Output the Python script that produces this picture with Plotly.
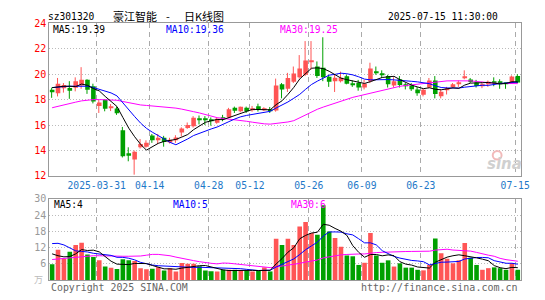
import plotly.graph_objects as go

# ---------------- data ----------------
dates = ["2025-03-19","2025-03-20","2025-03-21","2025-03-24","2025-03-25","2025-03-26","2025-03-27","2025-03-28",
         "2025-03-31","2025-04-01","2025-04-02","2025-04-03","2025-04-07","2025-04-08","2025-04-09","2025-04-10",
         "2025-04-11","2025-04-14","2025-04-15","2025-04-16","2025-04-17","2025-04-18","2025-04-21","2025-04-22",
         "2025-04-23","2025-04-24","2025-04-25","2025-04-28","2025-04-29","2025-04-30","2025-05-06","2025-05-07",
         "2025-05-08","2025-05-09","2025-05-12","2025-05-13","2025-05-14","2025-05-15","2025-05-16","2025-05-19",
         "2025-05-20","2025-05-21","2025-05-22","2025-05-23","2025-05-26","2025-05-27","2025-05-28","2025-05-29",
         "2025-05-30","2025-06-03","2025-06-04","2025-06-05","2025-06-06","2025-06-09","2025-06-10","2025-06-11",
         "2025-06-12","2025-06-13","2025-06-16","2025-06-17","2025-06-18","2025-06-19","2025-06-20","2025-06-23",
         "2025-06-24","2025-06-25","2025-06-26","2025-06-27","2025-06-30","2025-07-01","2025-07-02","2025-07-03",
         "2025-07-04","2025-07-07","2025-07-08","2025-07-09","2025-07-10","2025-07-11","2025-07-14","2025-07-15"]

open_ = [18.77,18.50,18.90,18.92,18.94,19.10,19.57,19.05,17.50,17.98,17.32,17.30,15.60,13.78,13.30,14.25,
         14.30,15.17,14.85,15.00,14.62,14.80,15.42,15.76,15.90,16.45,16.43,16.40,16.18,16.55,16.60,17.36,
         17.08,17.35,17.20,17.48,17.22,17.22,17.15,19.20,18.85,19.40,19.75,19.95,20.95,20.60,20.50,19.80,
         19.45,19.45,19.83,19.22,19.30,18.95,19.45,20.22,20.05,19.85,19.10,19.60,19.12,19.10,18.80,18.38,
         18.95,19.50,18.27,18.75,19.00,19.25,19.68,19.58,19.35,19.10,19.25,19.42,19.45,19.28,19.38,19.85]
high = [18.94,19.70,19.30,19.45,19.75,20.55,19.60,19.25,18.00,18.02,17.65,17.45,15.85,14.25,14.00,14.90,
        14.80,15.30,15.30,15.15,15.00,15.20,15.82,16.20,16.70,16.75,16.70,16.60,16.60,16.80,17.35,17.45,
        17.45,17.45,17.50,17.68,17.40,17.42,19.65,19.30,20.10,20.60,21.50,22.60,22.60,21.00,22.90,19.95,
        19.95,20.20,19.95,19.50,19.55,19.55,20.90,20.60,20.30,19.95,19.75,19.85,19.30,19.30,19.00,18.90,
        19.70,19.85,18.80,19.00,19.30,19.50,20.30,19.70,19.55,19.40,19.50,19.75,19.60,19.32,19.90,20.00]
low = [18.14,18.25,18.55,18.06,18.65,18.85,18.45,17.70,16.95,17.08,17.10,16.80,13.45,13.15,12.10,14.15,
       14.22,14.60,14.50,14.30,14.55,14.60,15.10,15.70,15.80,16.05,16.00,15.95,16.10,16.30,16.55,16.95,
       17.00,16.95,17.05,17.06,17.10,16.95,17.05,18.10,18.60,19.30,19.65,19.85,20.35,19.70,19.45,19.00,
       18.60,19.35,19.20,19.00,18.70,18.80,19.30,19.95,19.70,18.95,18.95,18.95,18.80,18.68,18.30,18.25,
       18.90,18.10,18.10,18.40,18.95,19.00,19.60,19.30,18.95,18.90,19.00,19.05,18.85,18.85,19.30,19.30]
close = [18.57,19.25,19.15,18.69,19.45,19.57,18.77,17.85,17.78,17.28,17.45,16.93,13.55,13.58,13.90,14.50,
         14.60,14.80,15.00,14.67,14.85,15.03,15.72,16.00,16.58,16.38,16.38,16.35,16.50,16.50,17.25,17.12,
         17.43,17.08,17.28,17.20,17.28,17.15,19.10,18.80,19.70,20.05,20.45,21.08,21.05,19.85,19.75,19.40,
         19.72,19.72,19.25,19.17,18.95,19.25,20.45,20.10,19.95,19.20,19.45,19.15,19.05,18.82,18.50,18.78,
         19.50,18.45,18.62,18.85,19.20,19.30,19.75,19.38,19.07,19.15,19.40,19.35,19.20,19.25,19.82,19.35]
volume = [5.9,11.2,7.9,10.5,13.0,13.8,9.5,8.5,7.3,5.0,4.6,4.1,7.7,7.3,7.1,4.4,
          4.0,4.2,4.7,3.5,4.4,3.2,6.3,6.0,6.0,5.1,3.5,3.3,3.2,3.8,3.8,3.8,
          3.6,3.6,3.2,3.4,4.7,3.2,15.3,13.0,15.3,13.0,19.8,21.5,17.4,16.8,27.7,18.0,
          15.6,12.3,9.1,8.8,5.6,6.4,17.4,9.1,6.4,7.3,5.0,6.2,4.6,4.6,3.8,3.6,
          5.6,15.4,9.9,7.9,6.2,7.3,13.7,8.3,5.6,3.8,4.4,4.7,4.4,3.8,6.2,3.8]

# moving-average values before enough history is visible
ma5_head = [18.94,19.00,19.05,19.05]
ma10_head = [18.94,19.00,19.02,19.05,19.07,19.07,19.05,18.95,18.82]
ma30_head = [17.36,17.48,17.60,17.70,17.80,17.90,17.96,18.00,18.00,18.00,18.00,17.95,17.85,17.75,17.65,
             17.58,17.54,17.50,17.47,17.44,17.40,17.33,17.25,17.17,17.05,16.95,16.82,16.70,16.58]
vma5_head = [9.7,9.0,8.6,8.7]
vma10_head = [13.5,13.6,13.0,11.8,10.8,10.6,10.4,9.9,9.6]
vma30_head = [7.6,7.8,8.0,8.3,8.6,8.8,8.9,9.0,9.0,8.9,8.8,8.8,8.8,8.8,8.8,8.9,9.2,9.5,9.5,9.3,
              9.0,8.5,8.0,7.5,7.2,6.8,6.4,6.2,6.0]

tick_dates = ["2025-03-31","2025-04-14","2025-04-28","2025-05-12","2025-05-26","2025-06-09","2025-06-23","2025-07-15"]
price_ticks = [12,14,16,18,20,22,24]
vol_ticks = [6,12,18,24,30]

header_code = "sz301320"
header_name = "豪江智能"
header_kind = "日K线图"
header_time = "2025-07-15 11:30:00"
ma_price_labels = ["MA5:19.39","MA10:19.36","MA30:19.25"]
ma_vol_labels = ["MA5:4","MA10:5","MA30:6"]

# ---------------- helpers ----------------
W, H = 545, 300
RED, GREEN = "#FF5555", "#00A000"
MONO = "DejaVu Sans Mono, Liberation Mono, monospace"

def px(x):
    return x / W

def py(y):
    return 1 - y / H

def mavg(vals, n, head):
    out = []
    for i in range(len(vals)):
        if i < n - 1:
            out.append(head[i])
        else:
            out.append(sum(vals[i - n + 1:i + 1]) / n)
    return out

n = len(dates)
idx = list(range(n))
is_up = [c >= o for o, c in zip(open_, close)]
WICK_SHIFT = 1 / 12  # half a pixel, keeps 1px wicks crisp

fig = go.Figure()

# candle bodies and volume bars
for up, col in ((True, RED), (False, GREEN)):
    xs = [i for i in idx if is_up[i] == up]
    base = [min(open_[i], close[i]) for i in xs]
    hgt = [max(abs(close[i] - open_[i]), 0.08) for i in xs]
    fig.add_trace(go.Bar(x=xs, y=hgt, base=base, width=0.78, marker=dict(color=col, line=dict(width=0)),
                         xaxis="x", yaxis="y", hoverinfo="skip"))
    fig.add_trace(go.Bar(x=xs, y=[volume[i] for i in xs], width=0.78,
                         marker=dict(color=col, line=dict(width=0)),
                         xaxis="x2", yaxis="y2", hoverinfo="skip"))

# wicks
for up, col in ((True, RED), (False, GREEN)):
    wx, wy = [], []
    for i in idx:
        if is_up[i] == up:
            wx += [i - WICK_SHIFT, i - WICK_SHIFT, None]
            wy += [low[i], high[i], None]
    fig.add_trace(go.Scatter(x=wx, y=wy, mode="lines", line=dict(color=col, width=1),
                             xaxis="x", yaxis="y", hoverinfo="skip"))

# moving averages
for vals, nn, head, col in ((close, 30, ma30_head, "#FF00FF"), (close, 10, ma10_head, "#0000FF"),
                            (close, 5, ma5_head, "#000000")):
    fig.add_trace(go.Scatter(x=idx, y=mavg(vals, nn, head), mode="lines", line=dict(color=col, width=1),
                             xaxis="x", yaxis="y", hoverinfo="skip"))
for vals, nn, head, col in ((volume, 30, vma30_head, "#FF00FF"), (volume, 10, vma10_head, "#0000FF"),
                            (volume, 5, vma5_head, "#000000")):
    fig.add_trace(go.Scatter(x=idx, y=mavg(vals, nn, head), mode="lines", line=dict(color=col, width=1),
                             xaxis="x2", yaxis="y2", hoverinfo="skip"))

tick_idx = [dates.index(d) for d in tick_dates]
tickvals = [i - 0.45 for i in tick_idx]
ticktext = [d if k == 0 else d[5:] for k, d in enumerate(tick_dates)]

xdom = [px(50), px(529.5)]
common_x = dict(domain=xdom, range=[-0.5, n - 0.5], tickvals=tickvals, showgrid=True, gridcolor="#AAAAAA",
                griddash="5px,4px", gridwidth=1, showline=True, mirror=True, linecolor="#999999", linewidth=1,
                zeroline=False, ticks="", fixedrange=True)

fig.update_layout(
    width=W, height=H, margin=dict(l=0, r=0, t=0, b=0), autosize=False,
    paper_bgcolor="white", plot_bgcolor="white", showlegend=False, barmode="overlay",
    xaxis=dict(common_x, anchor="y", ticktext=ticktext, showticklabels=True,
               tickfont=dict(family=MONO, size=9.7, color="#1E78C8")),
    xaxis2=dict(common_x, anchor="y2", matches="x", showticklabels=False),
    yaxis=dict(domain=[py(177), py(18)], range=[12, 24], tickvals=price_ticks, showgrid=True,
               gridcolor="#BBBBBB", griddash="1px,2px", showline=True, mirror=True, linecolor="#999999",
               zeroline=False, ticks="", tickfont=dict(family=MONO, size=10, color="#FF0000"), anchor="x"),
    yaxis2=dict(domain=[py(285.5), py(201)], range=[0, 30], tickvals=vol_ticks, showgrid=True,
                gridcolor="#BBBBBB", griddash="1px,2px", showline=True, mirror=True, linecolor="#999999",
                zeroline=False, ticks="", tickfont=dict(family=MONO, size=10, color="#999999"), anchor="x2"),
)

ann = []
def text(x, y, s, color="#000000", size=9.6, anchor="left", family=MONO, **kw):
    ann.append(dict(x=px(x), y=py(y), xref="paper", yref="paper", text=s, showarrow=False,
                    xanchor=anchor, yanchor="middle", font=dict(family=family, size=size, color=color, **kw)))

CJK = "Noto Sans CJK SC"
text(47, 11, header_code)
text(113, 10, header_name, size=11, family=CJK)
text(170.5, 10, "-", size=11, anchor="center", family=CJK)
text(185, 10, header_kind, size=11, family=CJK)
text(508, 11, header_time, anchor="right")
for s, x, c in zip(ma_price_labels, (52, 167, 283), ("#000000", "#0000FF", "#FF00FF")):
    text(x, 24, s, color=c)
for s, x, c in zip(ma_vol_labels, (53, 174, 294), ("#000000", "#0000FF", "#FF00FF")):
    text(x, 207, s, color=c)
text(50, 293, "Copyright 2025 SINA.COM", color="#666666", size=9.9)
text(529, 293, "http://finance.sina.com.cn", color="#666666", size=10, anchor="right")
text(46, 285, "万", color="#BBBBBB", size=9, anchor="right", family=CJK)
text(513, 165, "sina", color="#D0D0D0", size=15, anchor="center",
     family="DejaVu Sans", weight="bold", style="italic")
fig.update_layout(annotations=ann)
fig.add_shape(type="circle", xref="paper", yref="paper", x0=px(501), x1=px(510), y0=py(160), y1=py(151),
              line=dict(color="#F2BABA", width=2))

fig.write_html("out.html")
